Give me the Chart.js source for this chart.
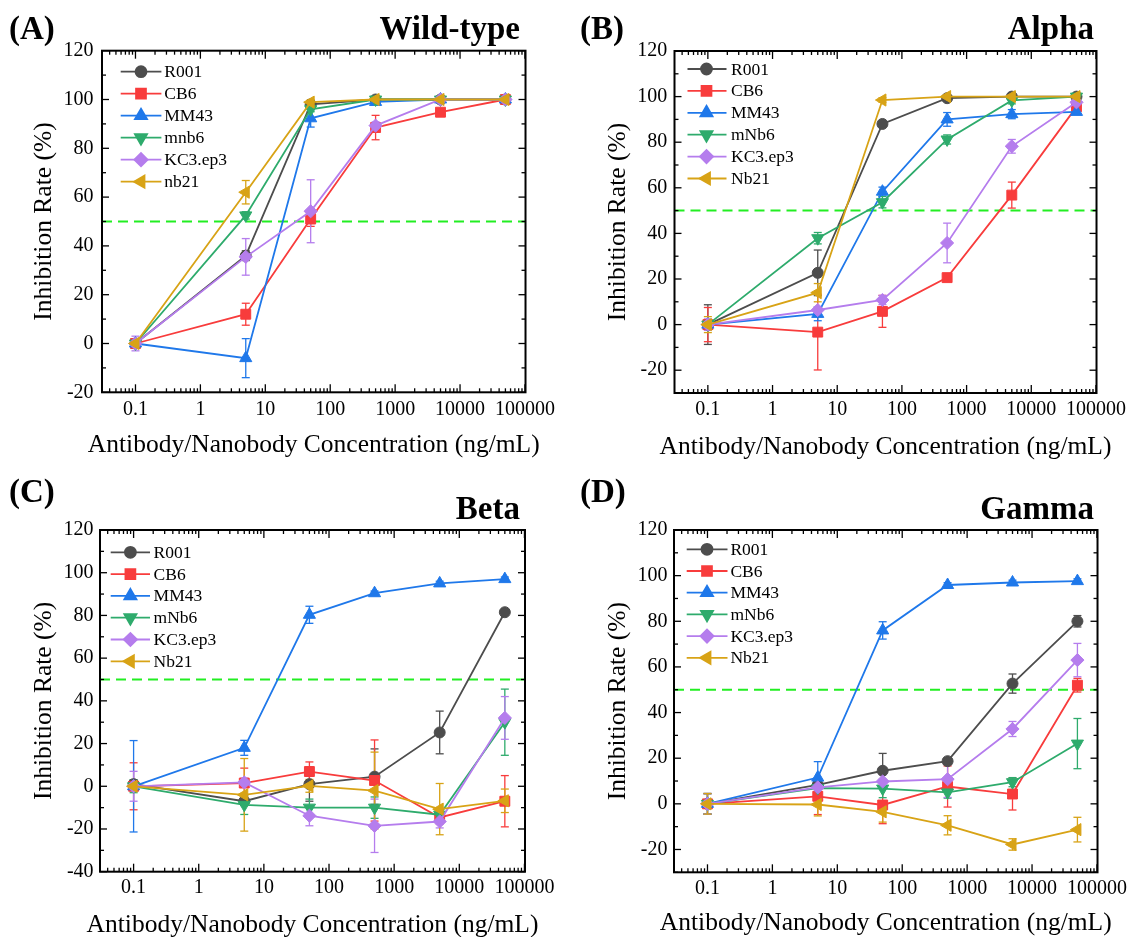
<!DOCTYPE html>
<html>
<head>
<meta charset="utf-8">
<script src="https://cdn.jsdelivr.net/npm/chart.js@4.4.1/dist/chart.umd.min.js"></script>
<style>
    body { margin: 0; background: #fff; }
    #fig {
        position: relative; width: 1131px; height: 937px; overflow: hidden; background: #fff;
        font-family: "Liberation Serif", "Times New Roman", serif; color: #000;
    }
    .panel { position: absolute; }
    .tag, .ttl {
        position: absolute; font-weight: bold; font-size: 33px; line-height: 33px;
        white-space: nowrap; z-index: 2;
    }
</style>
</head>
<body>
<div id="fig">
    <canvas id="chartA" class="panel" width="560" height="470" style="left:0;top:0"></canvas>
    <canvas id="chartB" class="panel" width="571" height="470" style="left:560px;top:0"></canvas>
    <canvas id="chartC" class="panel" width="560" height="480" style="left:0;top:470px"></canvas>
    <canvas id="chartD" class="panel" width="571" height="480" style="left:560px;top:470px"></canvas>

    <div class="tag" style="left:9px;top:12px">(A)</div>
    <div class="ttl" style="right:611px;top:12px">Wild-type</div>
    <div class="tag" style="left:580px;top:12px">(B)</div>
    <div class="ttl" style="right:37px;top:12px">Alpha</div>
    <div class="tag" style="left:9px;top:475px">(C)</div>
    <div class="ttl" style="right:611px;top:492px">Beta</div>
    <div class="tag" style="left:580px;top:475px">(D)</div>
    <div class="ttl" style="right:37px;top:492px">Gamma</div>
</div>

<script>
// ---------------- data ----------------

const CONC = [0.1, 5, 50, 500, 5000, 50000];          // ng/mL
const X_MIN = 0.0305, X_MAX = 1.02e5;
const HALF_LINE = 50;                                   // dashed 50 % line

const NAMES_WT  = ['R001', 'CB6', 'MM43', 'mnb6', 'KC3.ep3', 'nb21'];
const NAMES_VAR = ['R001', 'CB6', 'MM43', 'mNb6', 'KC3.ep3', 'Nb21'];

const X_TITLE = 'Antibody/Nanobody Concentration (ng/mL)';
const Y_TITLE = 'Inhibition Rate (%)';

// rows follow the name order: R001, CB6, MM43, mNb6, KC3.ep3, Nb21
const WT_MEAN = [
    [0, 36,   98,   100,  100,  100],
    [0, 12,   51,   88.5, 94.8, 100],
    [0, -6,   92.3, 99,   100,  100],
    [0, 52.5, 96,   100,  100,  100],
    [0, 35.5, 54.2, 89.3, 100,  100],
    [0, 62,   98.9, 100,  100,  100],
];
const WT_ERR = [
    [1.5, 2,   1,    0.5, 0.5, 0.5],
    [2,   4.5, 3,    5,   1,   0.5],
    [2,   8,   3.6,  1,   0.5, 0.5],
    [2,   1.5, 1,    0.5, 0.5, 0.5],
    [3,   7.5, 12.9, 1.5, 1,   1.5],
    [2,   4.8, 1,    0.5, 0.5, 0.5],
];

const ALPHA_MEAN = [
    [0, 22.7, 88,   99.3, 100,  100],
    [0, -3.3, 5.8,  20.6, 56.8, 95.5],
    [0, 4.7,  58.3, 90,   92.3, 93.3],
    [0, 37.9, 53.7, 81.2, 98.3, 100],
    [0, 6.4,  10.8, 35.8, 78.2, 97.5],
    [0, 14,   98.5, 100,  100,  100],
];
const ALPHA_ERR = [
    [8.7, 10,   1,   1,   0.5, 0.5],
    [7.5, 16.6, 7,   1.5, 5.7, 3],
    [2,   3,    2,   3,   2,   1],
    [2,   2.5,  2.5, 2,   1.5, 0.5],
    [2.5, 1.5,  2,   8.7, 3,   2],
    [3.5, 4,    1,   0.5, 0.5, 0.5],
];

const BETA_MEAN = [
    [1, -7,   1,     4.5,   25.2,  81.5],
    [0, 1.5,  6.9,   2.7,   -14.6, -7],
    [0, 18,   80.3,  90.4,  95,    97],
    [0, -8.7, -10,   -10,   -13.3, 30],
    [0, 1.8,  -13.8, -18.5, -16.5, 32],
    [0, -4,   0.2,   -2,    -10.7, -6.8],
];
const BETA_ERR = [
    [2,    2,   8,   13,   10, 1],
    [11,   7,   4.5, 19,   3,  12],
    [21.4, 3.5, 4,   1,    1,  1],
    [3,    4.5, 4,   5,    3,  15.5],
    [7,    2,   4.7, 12.5, 3,  10],
    [2,    17,  3,   18,   12, 5.5],
];

const GAMMA_MEAN = [
    [0, 8.3,  14.5, 18.7, 52.7,  80],
    [0, 3.3,  -0.5, 7.6,  4.3,   52],
    [0, 11.5, 76,   95.9, 97,    97.6],
    [0, 6.9,  6.7,  5,    9.5,   26.4],
    [0, 7.2,  9.8,  10.8, 32.8,  63],
    [0, -0.3, -3.5, -9.4, -17.8, -11.3],
];
const GAMMA_ERR = [
    [4.5, 2, 7.6, 1.5, 4.2, 2.5],
    [4.5, 8, 8.2, 9,   7,   3],
    [4.5, 7, 3.8, 1,   1,   1],
    [4.5, 2, 4,   2.5, 2,   11],
    [4.5, 2, 3,   8,   3.3, 7.3],
    [4.5, 5, 4.5, 4.2, 2.5, 5.4],
];

const Y_TICK_LABELS = [-40, -20, 0, 20, 40, 60, 80, 100, 120];

// ---------------- styles ----------------

const SERIF = '"Liberation Serif", "Times New Roman", serif';
const COLORS = ['#4d4d4d', '#f83c3c', '#1f78ea', '#2eab6c', '#b57ded', '#d8a316'];
const MARKERS = [
    { style: 'circle',   rot: 0,   r: 5.5 },
    { style: 'rect',     rot: 0,   r: 7 },
    { style: 'triangle', rot: 0,   r: 7 },
    { style: 'triangle', rot: 180, r: 7 },
    { style: 'rectRot',  rot: 0,   r: 6.6 },
    { style: 'triangle', rot: -90, r: 7 },
];

Chart.defaults.font.family = SERIF;
Chart.defaults.color = '#000';

// ---------------- helpers ----------------

const isDecade = v => Math.abs(Math.log10(v) - Math.round(Math.log10(v))) < 1e-9;

function logTicks(min, max) {
    const out = [];
    for (let e = Math.floor(Math.log10(min)); e <= Math.ceil(Math.log10(max)); e++) {
        for (let m = 1; m <= 9; m++) {
            const v = Number((m * Math.pow(10, e)).toPrecision(6));
            if (v >= min && v <= max) out.push({ value: v });
        }
    }
    return out;
}

function line(ctx, x0, y0, x1, y1) {
    ctx.beginPath();
    ctx.moveTo(x0, y0);
    ctx.lineTo(x1, y1);
    ctx.stroke();
}

// dashed 50 % line + error bars (under the markers), frame + inward ticks + legend on top
const figurePlugin = {
    id: 'figure',
    beforeDatasetsDraw(chart) {
        const { ctx, chartArea: a, scales: { x, y } } = chart;
        ctx.save();
        ctx.strokeStyle = '#22ee22';
        ctx.lineWidth = 2;
        ctx.setLineDash([10, 6]);
        const yh = y.getPixelForValue(HALF_LINE);
        line(ctx, a.left, yh, a.right, yh);
        ctx.setLineDash([]);

        ctx.lineWidth = 1.3;
        chart.data.datasets.forEach(ds => {
            ctx.strokeStyle = ds.borderColor;
            ds.data.forEach((p, k) => {
                const e = ds.errors[k];
                const px = x.getPixelForValue(p.x);
                const yt = y.getPixelForValue(p.y + e);
                const yb = y.getPixelForValue(p.y - e);
                line(ctx, px, yt, px, yb);
                line(ctx, px - 4, yt, px + 4, yt);
                line(ctx, px - 4, yb, px + 4, yb);
            });
        });
        ctx.restore();
    },
    afterDraw(chart) {
        const { ctx, chartArea: a, scales: { x, y } } = chart;
        const L = chart.options.plugins.figure;
        ctx.save();
        ctx.strokeStyle = '#000';
        ctx.lineWidth = 1.3;
        x.ticks.forEach(t => {
            const px = x.getPixelForValue(t.value);
            const len = isDecade(t.value) ? 8 : 4;
            line(ctx, px, a.bottom, px, a.bottom - len);
            line(ctx, px, a.top, px, a.top + len);
        });
        y.ticks.forEach(t => {
            const py = y.getPixelForValue(t.value);
            const len = t.value % 20 === 0 ? 7 : 4;
            line(ctx, a.left, py, a.left + len, py);
            line(ctx, a.right, py, a.right - len, py);
        });
        ctx.lineWidth = 2;
        ctx.strokeRect(a.left, a.top, a.right - a.left, a.bottom - a.top);

        // x axis title, wider than the plot so not squeezed to the scale width
        ctx.fillStyle = '#000';
        ctx.font = `25.5px ${SERIF}`;
        ctx.textAlign = 'center';
        ctx.textBaseline = 'middle';
        ctx.fillText(X_TITLE, (a.left + a.right) / 2, L.xTitleY);

        // legend
        ctx.font = `17.5px ${SERIF}`;
        ctx.textAlign = 'left';
        chart.data.datasets.forEach((ds, i) => {
            const ly = a.top + L.legTop + i * L.legStep;
            ctx.strokeStyle = ds.borderColor;
            ctx.fillStyle = ds.borderColor;
            ctx.lineWidth = 1.8;
            line(ctx, a.left + L.legX0, ly, a.left + L.legX1, ly);
            Chart.helpers.drawPoint(ctx, {
                pointStyle: ds.pointStyle, rotation: ds.pointRotation,
                radius: ds.pointRadius, borderWidth: 1,
            }, a.left + L.legMark, ly);
            ctx.fillStyle = '#000';
            ctx.fillText(ds.label, a.left + L.legText, ly + 1);
        });
        ctx.restore();
    },
};

function makePanel(id, names, means, errs, yMin, L) {
    const datasets = names.map((name, i) => ({
        label: name,
        data: CONC.map((c, k) => ({ x: c, y: means[i][k] })),
        errors: errs[i],
        borderColor: COLORS[i],
        backgroundColor: COLORS[i],
        borderWidth: 1.8,
        pointStyle: MARKERS[i].style,
        pointRotation: MARKERS[i].rot,
        pointRadius: MARKERS[i].r,
        pointHoverRadius: MARKERS[i].r,
        pointBorderWidth: 1,
        pointBackgroundColor: COLORS[i],
        pointBorderColor: COLORS[i],
        tension: 0,
        order: names.length - i,
    }));

    return new Chart(document.getElementById(id), {
        type: 'line',
        data: { datasets },
        plugins: [figurePlugin],
        options: {
            responsive: false,
            animation: false,
            devicePixelRatio: 1,
            events: [],
            layout: { padding: { left: 0, top: L.top, right: L.w - L.right, bottom: 0 } },
            plugins: {
                legend: { display: false },
                tooltip: { enabled: false },
                figure: L,
            },
            scales: {
                x: {
                    type: 'logarithmic',
                    min: X_MIN,
                    max: X_MAX,
                    grid: { display: false, drawTicks: false },
                    border: { display: false },
                    afterBuildTicks: s => { s.ticks = logTicks(s.min, s.max); },
                    afterFit: s => { s.height = L.h - L.bottom; },
                    ticks: {
                        autoSkip: false, maxRotation: 0, minRotation: 0,
                        padding: L.xTickPad, color: '#000',
                        font: { size: 20, family: SERIF },
                        callback: v => isDecade(v) ? String(Number(v.toPrecision(6))) : '',
                    },
                    title: { display: false },
                },
                y: {
                    type: 'linear',
                    min: yMin,
                    max: 120,
                    grid: { display: false, drawTicks: false },
                    border: { display: false },
                    afterFit: s => { s.width = L.left; },
                    ticks: {
                        stepSize: 10, autoSkip: false,
                        padding: L.yTickPad, color: '#000',
                        font: { size: 20, family: SERIF },
                        callback: v => Y_TICK_LABELS.includes(v) ? String(v) : '',
                    },
                    title: {
                        display: true, text: Y_TITLE,
                        color: '#000', font: { size: 25.5, family: SERIF },
                        padding: { top: L.yTitlePad, bottom: 0 },
                    },
                },
            },
        },
    });
}

// ---------------- panels ----------------

makePanel('chartA', NAMES_WT, WT_MEAN, WT_ERR, -20, {
    w: 560, h: 470, left: 102, right: 526, top: 50.7, bottom: 392.3,
    yTitlePad: 28.5, xTitleY: 445, xTickPad: 5, yTickPad: 8.4,
    legTop: 21, legStep: 22, legX0: 18.7, legX1: 59.4, legMark: 39, legText: 62.3,
});

makePanel('chartB', NAMES_VAR, ALPHA_MEAN, ALPHA_ERR, -30, {
    w: 571, h: 470, left: 114.5, right: 539, top: 51, bottom: 393,
    yTitlePad: 42.7, xTitleY: 447, xTickPad: 5, yTickPad: 7.3,
    legTop: 18, legStep: 21.9, legX0: 13, legX1: 52, legMark: 32, legText: 56.5,
});

makePanel('chartC', NAMES_VAR, BETA_MEAN, BETA_ERR, -40, {
    w: 560, h: 480, left: 100, right: 525, top: 60, bottom: 401.7,
    yTitlePad: 28.5, xTitleY: 455, xTickPad: 4.3, yTickPad: 6.4,
    legTop: 22.3, legStep: 21.8, legX0: 10.7, legX1: 50, legMark: 30.4, legText: 53.6,
});

makePanel('chartD', NAMES_VAR, GAMMA_MEAN, GAMMA_ERR, -30, {
    w: 571, h: 480, left: 114, right: 539, top: 60, bottom: 402.3,
    yTitlePad: 42.7, xTitleY: 453.3, xTickPad: 4, yTickPad: 6.6,
    legTop: 19.3, legStep: 21.7, legX0: 12.7, legX1: 53.5, legMark: 33, legText: 56.4,
});
</script>
</body>
</html>
